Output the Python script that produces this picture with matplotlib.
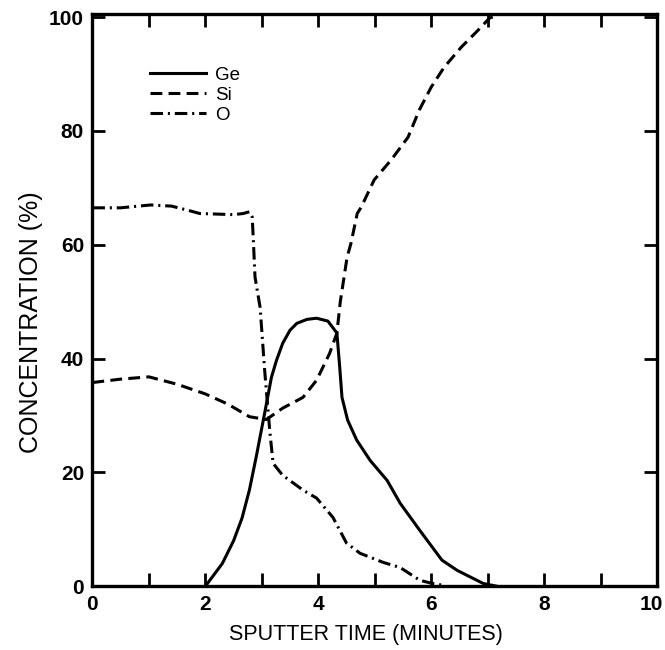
import numpy as np
import matplotlib
matplotlib.use("Agg")
import matplotlib.pyplot as plt
from matplotlib.transforms import ScaledTranslation

plt.rcParams['font.family'] = ['Liberation Sans', 'DejaVu Sans']
plt.rcParams['lines.scale_dashes'] = False

# sputter depth profile
ge_t = [2.0, 2.3, 2.5, 2.65, 2.78, 2.9, 3.05, 3.17, 3.26, 3.37, 3.5, 3.62, 3.8, 3.97, 4.17,
        4.33, 4.38, 4.42, 4.52, 4.68, 4.92, 5.22, 5.45, 5.8, 6.19, 6.46, 6.92, 7.17]
ge_c = [0.0, 4.0, 8.0, 12.0, 16.9, 22.7, 30.4, 36.7, 39.7, 42.7, 45.0, 46.2, 46.9, 47.1, 46.6,
        44.5, 38.5, 33.2, 29.2, 25.7, 22.1, 18.6, 14.6, 9.8, 4.6, 2.8, 0.5, 0.0]

si_t = [0.0, 0.5, 1.0, 1.5, 2.0, 2.4, 2.78, 3.08, 3.37, 3.73, 3.97, 4.2, 4.33, 4.39, 4.51,
        4.58, 4.69, 4.76, 4.99, 5.29, 5.59, 5.79, 6.0, 6.23, 6.53, 6.83, 7.03, 7.2, 8.0, 10.0]
si_c = [35.8, 36.4, 36.8, 35.5, 33.8, 32.0, 29.8, 29.3, 31.3, 33.2, 36.2, 40.9, 44.5, 50.0, 57.8,
        60.3, 65.5, 66.6, 71.4, 74.9, 78.9, 83.7, 87.7, 91.2, 94.7, 97.7, 99.8, 100.5, 100.5, 100.5]

o_t = [0.0, 0.5, 1.03, 1.4, 1.68, 1.9, 2.2, 2.5, 2.67, 2.78, 2.83, 2.85, 2.88, 2.97, 3.05, 3.14,
       3.2, 3.37, 3.73, 3.97, 4.26, 4.5, 4.74, 5.15, 5.45, 5.8, 6.02, 6.2]
o_c = [66.5, 66.5, 67.0, 66.8, 66.1, 65.5, 65.4, 65.3, 65.5, 65.8, 64.9, 60.8, 54.3, 49.0, 38.0, 27.4,
       21.6, 19.5, 16.9, 15.5, 12.1, 7.6, 5.8, 4.2, 3.3, 1.05, 0.5, 0.2]

fig = plt.figure(figsize=(6.65, 6.5), dpi=100)
ax = fig.add_axes([0.139, 0.098, 0.849, 0.88])

lw = 2.2
ax.plot(ge_t, ge_c, color='black', lw=lw, label='Ge')
ax.plot(si_t, si_c, color='black', lw=lw, dashes=(8.5, 4.5), label='Si')
ax.plot(o_t, o_c, color='black', lw=lw, dashes=(9, 3.5, 1.5, 3.5), label='O')

ax.set_xlim(0, 10)
ax.set_ylim(0, 100.5)
ax.set_xticks([0, 2, 4, 6, 8, 10])
ax.set_xticks(range(0, 11), minor=True)
ax.set_yticks([0, 20, 40, 60, 80, 100])
ax.tick_params(which='both', direction='in', top=True, right=True, width=2.0, length=9.5,
               labelsize=15, pad=6)
for lab in ax.get_xticklabels() + ax.get_yticklabels():
    lab.set_fontweight('bold')
# keep the "10" inside the picture
last = ax.get_xticklabels()[-1]
last.set_transform(last.get_transform() + ScaledTranslation(-4 / 72, 0, fig.dpi_scale_trans))
for s in ax.spines.values():
    s.set_linewidth(2.4)

ax.set_xlabel('SPUTTER TIME (MINUTES)', fontsize=15.5)
ax.set_ylabel('CONCENTRATION (%)', fontsize=18)
ax.xaxis.set_label_coords(0.485, -0.066)
ax.yaxis.set_label_coords(-0.087, 0.462)

leg = ax.legend(loc='upper left', bbox_to_anchor=(0.085, 0.925), frameon=False, fontsize=13.5,
                handlelength=3.0, handletextpad=0.5, labelspacing=0.15, borderpad=0)

fig.savefig('out.png', dpi=100)
